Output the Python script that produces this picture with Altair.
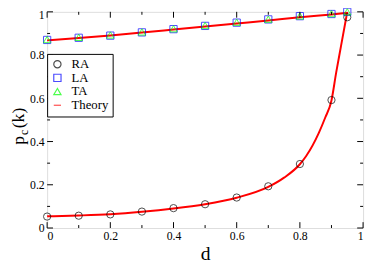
import altair as alt
import pandas as pd

# ---- data ----
d_pts = [0.0, 0.1, 0.2, 0.3, 0.4, 0.5, 0.6, 0.7, 0.8, 0.9, 0.95]
ra = [0.053, 0.057, 0.063, 0.076, 0.092, 0.11, 0.141, 0.193, 0.296, 0.592, 0.975]
la = [0.87, 0.88, 0.89, 0.905, 0.92, 0.935, 0.95, 0.965, 0.98, 0.99, 1.0]
ta = [0.872, 0.882, 0.893, 0.907, 0.922, 0.937, 0.952, 0.966, 0.981, 0.992, 1.0]

th_low_d = [0.0, 0.1, 0.2, 0.3, 0.4, 0.5, 0.6, 0.7, 0.75, 0.8, 0.82, 0.86, 0.88, 0.9, 0.915, 0.93, 0.945, 0.95]
th_low_p = [0.054, 0.058, 0.064, 0.075, 0.09, 0.11, 0.14, 0.19, 0.233, 0.295, 0.333, 0.44, 0.51, 0.59, 0.72, 0.84, 0.96, 1.0]
th_up_d = [0.0, 0.1, 0.2, 0.3, 0.4, 0.5, 0.6, 0.7, 0.8, 0.9, 0.95]
th_up_p = [0.868, 0.879, 0.891, 0.904, 0.918, 0.932, 0.946, 0.96, 0.975, 0.988, 0.995]

series_names = ["RA", "LA", "TA", "Theory"]
major_ticks = [0.0, 0.2, 0.4, 0.6, 0.8, 1.0]
minor_ticks = [0.1, 0.3, 0.5, 0.7, 0.9]

W, H = 323, 221
SERIF = "Liberation Serif"

pts = pd.DataFrame(
    [{"d": d, "p": v, "series": "RA"} for d, v in zip(d_pts, ra)]
    + [{"d": d, "p": v, "series": "LA"} for d, v in zip(d_pts, la)]
    + [{"d": d, "p": v, "series": "TA"} for d, v in zip(d_pts, ta)]
)
theory = pd.DataFrame(
    [{"d": d, "p": v, "curve": "low"} for d, v in zip(th_low_d, th_low_p)]
    + [{"d": d, "p": v, "curve": "up"} for d, v in zip(th_up_d, th_up_p)]
)
ticks = pd.DataFrame(
    [{"v": v, "len": 6} for v in major_ticks] + [{"v": v, "len": 3} for v in minor_ticks]
)

lab_expr = "datum.value == 0 ? '0' : (datum.value == 1 ? '1' : format(datum.value, '.1f'))"

xs = alt.Scale(domain=[0, 1], nice=False, zero=False)
ys = alt.Scale(domain=[0, 1], nice=False, zero=False)

x_axis = alt.Axis(values=major_ticks, ticks=False, domain=False, grid=False,
                  labelExpr=lab_expr, labelFont=SERIF, labelFontSize=12, labelPadding=3,
                  labelColor="black", title="d", titleFont=SERIF, titleFontSize=20,
                  titleFontWeight="normal", titleColor="black", titlePadding=2)
y_axis = alt.Axis(values=major_ticks, ticks=False, domain=False, grid=False,
                  labelExpr=lab_expr, labelFont=SERIF, labelFontSize=12, labelPadding=3,
                  labelColor="black", title=None,
                  labelBaseline={"condition": {"test": "datum.value == 1", "value": "top"}, "value": "middle"},
                  labelOffset={"condition": {"test": "datum.value == 1", "value": -2}, "value": 0})

lines = alt.Chart(theory).mark_line(color="#ff0000", strokeWidth=2, interpolate="monotone").encode(
    x=alt.X("d:Q", scale=xs, axis=x_axis),
    y=alt.Y("p:Q", scale=ys, axis=y_axis),
    detail="curve:N",
)

points = alt.Chart(pts).mark_point(filled=False, size=55, strokeWidth=1).encode(
    x=alt.X("d:Q", scale=xs),
    y=alt.Y("p:Q", scale=ys),
    shape=alt.Shape("series:N", scale=alt.Scale(domain=series_names,
                    range=["circle", "square", "triangle-up", "stroke"]),
                    legend=alt.Legend(title=None, orient="none", legendX=0, legendY=43,
                                      fillColor="white", strokeColor="black", padding=4,
                                      labelFont=SERIF, labelFontSize=13, labelColor="black",
                                      symbolSize=55, symbolStrokeWidth=1.2, rowPadding=0,
                                      labelOffset=8, cornerRadius=0)),
    color=alt.Color("series:N", scale=alt.Scale(domain=series_names,
                    range=["black", "#0000ff", "#00ff00", "#ff0000"])),
)

bt = alt.Chart(ticks).transform_calculate(y1=str(H), y2=f"{H} - datum.len").mark_rule(color="black").encode(
    x=alt.X("v:Q", scale=xs), y=alt.Y("y1:Q", scale=None), y2="y2:Q")
tt = alt.Chart(ticks).transform_calculate(y1="0", y2="datum.len").mark_rule(color="black").encode(
    x=alt.X("v:Q", scale=xs), y=alt.Y("y1:Q", scale=None), y2="y2:Q")
lt = alt.Chart(ticks).transform_calculate(x1="0", x2="datum.len").mark_rule(color="black").encode(
    y=alt.Y("v:Q", scale=ys), x=alt.X("x1:Q", scale=None), x2="x2:Q")
rt = alt.Chart(ticks).transform_calculate(x1=str(W), x2=f"{W} - datum.len").mark_rule(color="black").encode(
    y=alt.Y("v:Q", scale=ys), x=alt.X("x1:Q", scale=None), x2="x2:Q")

ylab_p = alt.Chart(pd.DataFrame({"t": ["p"]})).mark_text(
    font=SERIF, fontSize=18, angle=270, align="left", baseline="alphabetic", color="black"
).encode(text="t:N", x=alt.value(-24), y=alt.value(136))
ylab_c = alt.Chart(pd.DataFrame({"t": ["c"]})).mark_text(
    font=SERIF, fontSize=12, angle=270, align="left", baseline="alphabetic", color="black"
).encode(text="t:N", x=alt.value(-19.5), y=alt.value(126))
ylab_k = alt.Chart(pd.DataFrame({"t": ["(k)"]})).mark_text(
    font=SERIF, fontSize=18, angle=270, align="left", baseline="alphabetic", color="black"
).encode(text="t:N", x=alt.value(-24), y=alt.value(119))

chart = alt.layer(lines, points, bt, tt, lt, rt, ylab_p, ylab_c, ylab_k).properties(
    width=W, height=H,
    autosize=alt.AutoSizeParams(type="none"),
    padding={"left": 40, "top": 1, "right": 3, "bottom": 40},
).configure_view(stroke="black", strokeWidth=1.5).configure(background="white")

chart.save("out.html", embed_options={"renderer": "svg", "actions": False})
